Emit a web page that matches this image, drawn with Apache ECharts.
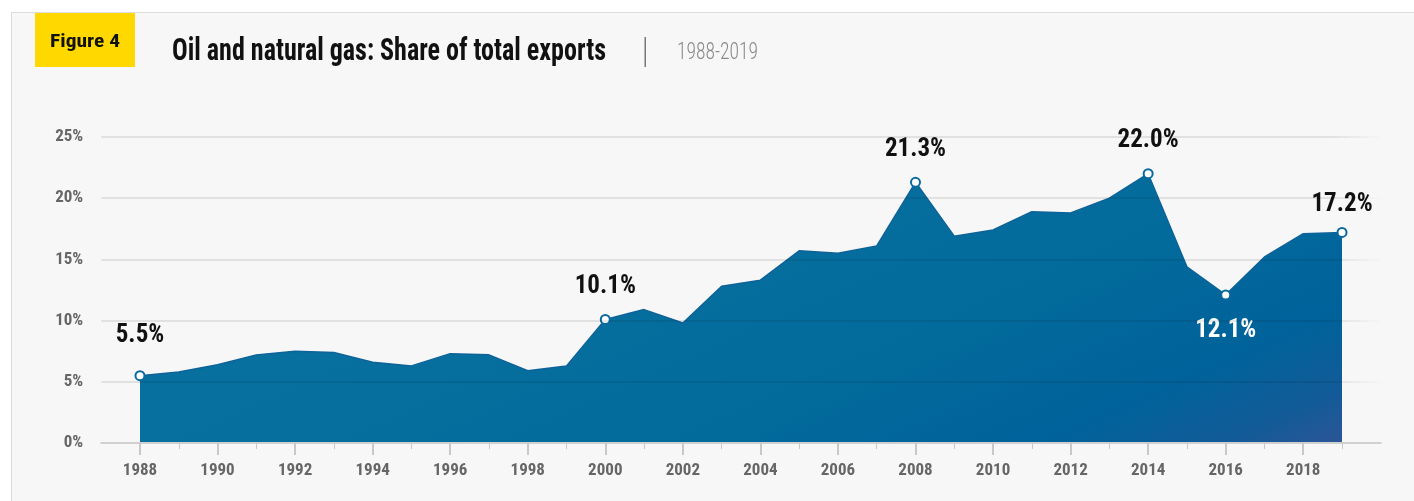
<!DOCTYPE html>
<html>
<head>
<meta charset="utf-8">
<title>Oil and natural gas: Share of total exports</title>
<script src="https://cdn.jsdelivr.net/npm/echarts@6.0.0/dist/echarts.min.js"></script>
<style>
  html, body { margin: 0; padding: 0; background: #ffffff; }
  #panel {
    position: absolute; left: 11px; top: 12px; width: 1403px; height: 489px;
    background: #f7f7f7; border-top: 1px solid #dcdcdc; border-left: 1px solid #dcdcdc;
  }
  #chart { position: absolute; left: 0; top: 0; width: 1414px; height: 501px; }
</style>
</head>
<body>
<div id="panel"></div>
<div id="chart"></div>
<script>
// Oil and natural gas exports as a share of total exports (%), 1988-2019
const years = [1988, 1989, 1990, 1991, 1992, 1993, 1994, 1995, 1996, 1997, 1998, 1999,
               2000, 2001, 2002, 2003, 2004, 2005, 2006, 2007, 2008, 2009, 2010, 2011,
               2012, 2013, 2014, 2015, 2016, 2017, 2018, 2019];
const shareOfExports = [5.5, 5.8, 6.4, 7.2, 7.5, 7.4, 6.6, 6.3, 7.3, 7.2, 5.9, 6.3,
                        10.1, 10.9, 9.8, 12.8, 13.3, 15.7, 15.5, 16.1, 21.3, 16.9, 17.4, 18.9,
                        18.8, 20.0, 22.0, 14.4, 12.1, 15.2, 17.1, 17.2];
// years whose value is called out on the chart
const labeledYears = [1988, 2000, 2008, 2014, 2016, 2019];
// the axis runs one year past the data at each end
const axisYears = [1987].concat(years, [2020]);
const yTicks = [0, 5, 10, 15, 20, 25];

const figureLabel = 'Figure 4';
const titleText = 'Oil and natural gas: Share of total exports';
const periodText = '1988-2019';

const CONDENSED = "'Roboto Condensed', 'Liberation Sans Narrow', 'DejaVu Sans Condensed', Roboto, sans-serif";
const BLUE = '#0a6a9e';

// horizontal squeeze so the heading text fills its slot
const measureCtx = document.createElement('canvas').getContext('2d');
function fitScale(text, font, width) {
  measureCtx.font = font;
  return width / measureCtx.measureText(text).width;
}

const titleFont = 'bold 32px ' + CONDENSED;
const figFont = 'bold 19px ' + CONDENSED;
const periodFont = '300 23px ' + CONDENSED;

// label placement for the called-out years
function labelFor(year) {
  if (year === 2016) return { position: 'bottom', distance: 18, color: '#ffffff' };
  if (year === 1988) return { position: 'top', distance: 22, color: '#111111' };
  if (year === 2019) return { position: 'top', distance: 10, color: '#111111' };
  return { position: 'top', distance: 15, color: '#111111' };
}

const seriesData = axisYears.map(function (yr) {
  const i = years.indexOf(yr);
  if (i < 0) return '-';
  const v = shareOfExports[i];
  if (labeledYears.indexOf(yr) < 0) return v;
  const l = labelFor(yr);
  return {
    value: v,
    symbol: 'circle',
    symbolSize: 9,
    itemStyle: { color: '#ffffff', borderColor: BLUE, borderWidth: 2 },
    label: {
      show: true,
      position: l.position,
      distance: l.distance,
      color: l.color,
      fontFamily: CONDENSED,
      fontSize: 25,
      fontWeight: 'bold',
      formatter: function (p) { return p.value.toFixed(1) + '%'; }
    }
  };
});

const isEven = function (idx, val) { const y = +val; return y % 2 === 0 && y >= 1988 && y <= 2018; };
const isOdd = function (idx, val) { const y = +val; return y % 2 === 1 && y >= 1989 && y <= 2019; };

const chart = echarts.init(document.getElementById('chart'), null, { renderer: 'canvas' });

const gridFade = new echarts.graphic.LinearGradient(0, 0, 1, 0, [
  { offset: 0, color: 'rgba(0,0,0,0.085)' },
  { offset: 0.96, color: 'rgba(0,0,0,0.085)' },
  { offset: 1, color: 'rgba(0,0,0,0)' }
]);

// fill darkens towards the lower right corner of the plot
const areaFill = new echarts.graphic.LinearGradient(1144, -4, 1342, 443, [
  { offset: 0, color: '#07709e' },
  { offset: 0.45, color: '#036b9c' },
  { offset: 0.75, color: '#00629a' },
  { offset: 0.9, color: '#125b98' },
  { offset: 1, color: '#2c5597' }
], true);

chart.setOption({
  backgroundColor: 'transparent',
  animation: false,
  grid: { left: 101.2, right: 33.2, top: 137, bottom: 58, containLabel: false },
  xAxis: [
    {
      type: 'category',
      data: axisYears.map(String),
      boundaryGap: false,
      axisLine: { show: true, lineStyle: { color: '#d0d0d0', width: 2 } },
      axisTick: { show: true, interval: isEven, length: 12, lineStyle: { color: '#c8c8c8', width: 2 } },
      axisLabel: {
        show: true, interval: isEven, margin: 19,
        color: '#666666', fontFamily: CONDENSED, fontSize: 17, fontWeight: 'bold'
      },
      splitLine: { show: false },
      z: 3
    },
    {
      type: 'category',
      data: axisYears.map(String),
      boundaryGap: false,
      position: 'bottom',
      axisLine: { show: false },
      axisTick: { show: true, interval: isOdd, length: 6, lineStyle: { color: '#c8c8c8', width: 1 } },
      axisLabel: { show: false },
      splitLine: { show: false },
      z: 3
    }
  ],
  yAxis: {
    type: 'value',
    min: yTicks[0],
    max: yTicks[yTicks.length - 1],
    interval: yTicks[1] - yTicks[0],
    axisLine: { show: false },
    axisTick: { show: false },
    axisLabel: {
      margin: 18, formatter: '{value}%',
      color: '#666666', fontFamily: CONDENSED, fontSize: 17, fontWeight: 'bold'
    },
    splitLine: { show: true, lineStyle: { color: gridFade, width: 2 } },
    z: 3
  },
  series: [{
    type: 'line',
    xAxisIndex: 0,
    data: seriesData,
    symbol: 'none',
    showSymbol: true,
    connectNulls: false,
    lineStyle: { color: '#0d6399', width: 1.5 },
    areaStyle: { opacity: 1, color: areaFill },
    z: 2
  }],
  graphic: [
    { type: 'rect', shape: { x: 35, y: 13, width: 100, height: 54 }, style: { fill: '#ffd800' }, z: 10 },
    {
      type: 'text', x: 85, y: 42, scaleX: fitScale(figureLabel, figFont, 70), z: 11,
      style: { text: figureLabel, font: figFont, fill: '#111111', textAlign: 'center', textVerticalAlign: 'middle' }
    },
    {
      type: 'text', x: 172, y: 52, scaleX: fitScale(titleText, titleFont, 434), z: 11,
      style: { text: titleText, font: titleFont, fill: '#111111', textAlign: 'left', textVerticalAlign: 'middle' }
    },
    { type: 'rect', shape: { x: 644.5, y: 37, width: 1.5, height: 30 }, style: { fill: '#777777' }, z: 10 },
    {
      type: 'text', x: 677, y: 53, scaleX: fitScale(periodText, periodFont, 81), z: 11,
      style: { text: periodText, font: periodFont, fill: '#8a8a8a', textAlign: 'left', textVerticalAlign: 'middle' }
    }
  ]
});
</script>
</body>
</html>
